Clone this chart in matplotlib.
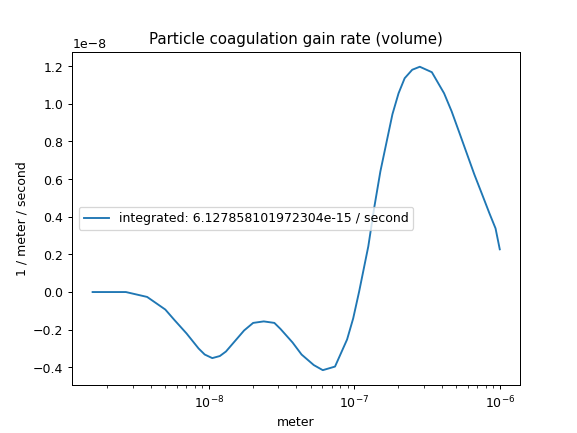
import numpy as np
import matplotlib.pyplot as plt

# values (log10 of diameter, rate in units of 1e-8)
log_d = [-8.8, -8.571, -8.425, -8.3, -8.238, -8.154, -8.071, -8.029, -7.977,
         -7.925, -7.883, -7.758, -7.696, -7.623, -7.55, -7.508, -7.425,
         -7.363, -7.279, -7.217, -7.133, -7.05, -7.008, -6.967, -6.904,
         -6.863, -6.821, -6.738, -6.696, -6.654, -6.602, -6.55, -6.467,
         -6.383, -6.331, -6.279, -6.227, -6.175, -6.123, -6.071, -6.029, -6.0]
rate = [0.0, 0.0, -0.026, -0.093, -0.148, -0.22, -0.30, -0.332, -0.351,
        -0.34, -0.316, -0.204, -0.164, -0.156, -0.164, -0.196, -0.268,
        -0.332, -0.388, -0.415, -0.396, -0.252, -0.14, 0.003, 0.243,
        0.45, 0.641, 0.945, 1.056, 1.136, 1.181, 1.197, 1.168,
        1.056, 0.96, 0.849, 0.737, 0.625, 0.522, 0.418, 0.338, 0.227]

d = 10.0 ** np.array(log_d)
y = np.array(rate) * 1e-8

plt.figure(figsize=(6.4, 4.8), dpi=90.3)
plt.plot(d, y, label="integrated: 6.127858101972304e-15 / second")
plt.xscale("log")
plt.xlabel("meter")
plt.ylabel("1 / meter / second")
plt.title("Particle coagulation gain rate (volume)")
plt.legend(loc="center left")
plt.savefig("out.png")
